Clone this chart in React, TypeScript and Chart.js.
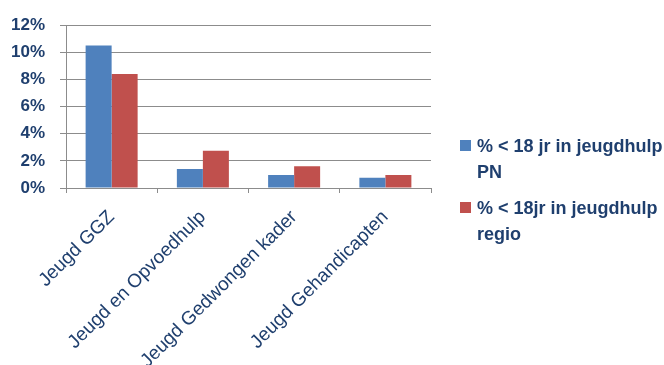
import { useEffect, useRef } from "react";
import { Chart, registerables } from "chart.js";

Chart.register(...registerables);

// Care categories on the x axis
const categories = [
  "Jeugd GGZ",
  "Jeugd en Opvoedhulp",
  "Jeugd Gedwongen kader",
  "Jeugd Gehandicapten",
];

// Share of under-18s in youth care (percent)
const pnValues = [10.5, 1.4, 0.95, 0.75];
const regioValues = [8.4, 2.75, 1.6, 0.95];

// Legend text, one entry per series, split over two lines
const pnLegend = ["% < 18 jr in jeugdhulp", "PN"];
const regioLegend = ["% < 18jr in jeugdhulp", "regio"];

const yMin = 0;
const yMax = 12;
const yStep = 2;

const W = 664;
const H = 365;
const TEXT = "#1F3F6E";
const GRID = "#8C8C8C";
const FONT = "'Liberation Sans', Arial, sans-serif";

const legendPlugin = {
  id: "wrappedLegend",
  afterDraw(chart: any) {
    const ctx = chart.ctx;
    const x0 = 460;
    const firstTop = 140;
    const itemGap = 62;
    const lineGap = 26;
    ctx.save();
    ctx.font = `bold 18px ${FONT}`;
    ctx.textBaseline = "alphabetic";
    ctx.textAlign = "left";
    chart.data.datasets.forEach((ds: any, i: number) => {
      const top = firstTop + i * itemGap;
      ctx.fillStyle = ds.backgroundColor;
      ctx.fillRect(x0, top, 11, 11);
      ctx.fillStyle = TEXT;
      const lines: string[] = ds.legendLines;
      lines.forEach((line, j) => {
        ctx.fillText(line, x0 + 17, top + 12 + j * lineGap);
      });
    });
    ctx.restore();
  },
};

export default function App() {
  const ref = useRef<HTMLCanvasElement | null>(null);

  useEffect(() => {
    if (!ref.current) return;
    const chart = new Chart(ref.current, {
      type: "bar",
      data: {
        labels: categories,
        datasets: [
          {
            label: pnLegend.join(" "),
            legendLines: pnLegend,
            data: pnValues,
            backgroundColor: "#4F81BD",
            categoryPercentage: 0.57,
            barPercentage: 1,
          } as any,
          {
            label: regioLegend.join(" "),
            legendLines: regioLegend,
            data: regioValues,
            backgroundColor: "#C0504D",
            categoryPercentage: 0.57,
            barPercentage: 1,
          } as any,
        ],
      },
      options: {
        responsive: false,
        animation: false,
        layout: { padding: { top: 20, right: 233, left: 0, bottom: 0 } },
        plugins: {
          legend: { display: false },
          tooltip: { enabled: false },
        },
        scales: {
          x: {
            offset: true,
            grid: {
              display: true,
              drawOnChartArea: false,
              drawTicks: true,
              tickLength: 5,
              color: GRID,
            },
            border: { color: GRID },
            ticks: {
              autoSkip: false,
              minRotation: 45,
              maxRotation: 45,
              color: TEXT,
              font: { family: FONT, size: 19 },
              padding: 13,
            },
            afterFit(scale: any) {
              scale.height = H - 188;
            },
          },
          y: {
            min: yMin,
            max: yMax,
            ticks: {
              stepSize: yStep,
              color: TEXT,
              font: { family: FONT, size: 17, weight: "bold" },
              padding: 15,
              callback: (v: any) => `${v}%`,
            },
            grid: { color: GRID, tickLength: 6 },
            border: { color: GRID },
            afterFit(scale: any) {
              scale.width = 66;
            },
          },
        },
      },
      plugins: [legendPlugin],
    });
    return () => chart.destroy();
  }, []);

  return (
    <div style={{ position: "absolute", left: 0, top: 0, width: W, height: H, background: "#fff" }}>
      <canvas ref={ref} width={W} height={H} />
    </div>
  );
}
